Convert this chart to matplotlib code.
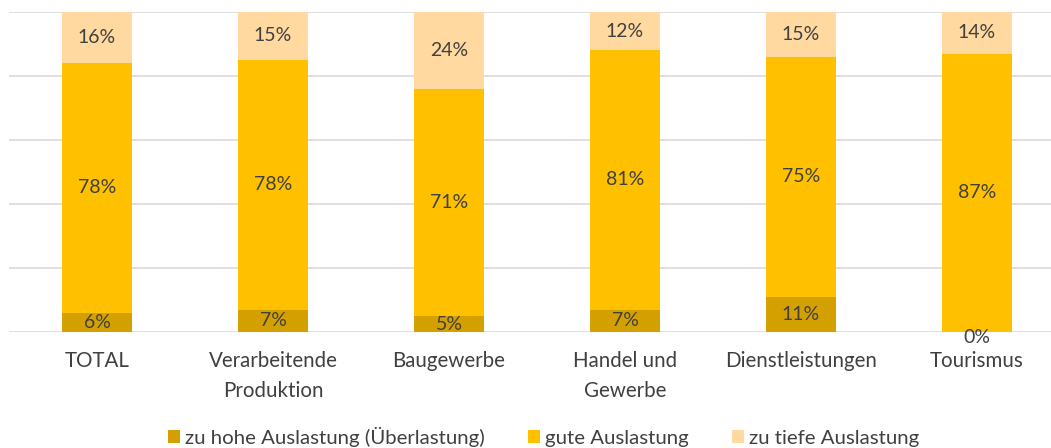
import matplotlib
matplotlib.use("Agg")
import matplotlib.pyplot as plt
from matplotlib.patches import Patch

categories = ["TOTAL", "Verarbeitende\nProduktion", "Baugewerbe", "Handel und\nGewerbe",
              "Dienstleistungen", "Tourismus"]
zu_hohe = [6, 7, 5, 7, 11, 0]
gute = [78, 78, 71, 81, 75, 87]
zu_tiefe = [16, 15, 24, 12, 15, 14]
series_names = ["zu hohe Auslastung (Überlastung)", "gute Auslastung", "zu tiefe Auslastung"]
colors = ["#D4A000", "#FFC000", "#FFD9A0"]

plt.rcParams['font.family'] = ['Lato', 'DejaVu Sans']
W, H = 1051, 448
fig = plt.figure(figsize=(W / 100, H / 100), dpi=100)
ax = fig.add_axes([9 / W, (H - 332) / H, 1056 / W, 320 / H])

x = list(range(len(categories)))
bottom = [0] * len(categories)
txt = "#404040"
for vals, col, name in zip([zu_hohe, gute, zu_tiefe], colors, series_names):
    bars = ax.bar(x, vals, width=0.40, bottom=bottom, color=col, label=name, zorder=3)
    texts = ax.bar_label(bars, labels=[f"{v}%" for v in vals], label_type='center',
                         color=txt, fontsize=14, zorder=4)
    for t, v in zip(texts, vals):
        if v == 0:
            t.set_y(t.get_position()[1] - 4)
    bottom = [b + v for b, v in zip(bottom, vals)]

ax.set_xlim(-0.5, 5.5)
ax.set_ylim(0, 100)
ax.set_yticks([0, 20, 40, 60, 80, 100])
ax.yaxis.grid(True, color="#D9D9D9", linewidth=1.2, zorder=0)
ax.set_yticklabels([])
ax.tick_params(axis='y', length=0)
ax.set_xticks(x)
ax.set_xticklabels(categories, fontsize=14.8, color=txt, linespacing=1.6)
ax.tick_params(axis='x', length=0, pad=14)
for s in ax.spines.values():
    s.set_visible(False)
ax.set_axisbelow(True)

handles = [Patch(facecolor=c, edgecolor='none') for c in colors]
fig.legend(handles, series_names, loc='center', bbox_to_anchor=(0.517, 11 / H),
           ncol=3, frameon=False, fontsize=14.7, handlelength=0.6, handleheight=0.6,
           handletextpad=0.25, columnspacing=2.1, labelcolor=txt)

fig.savefig("out.png", dpi=100)
